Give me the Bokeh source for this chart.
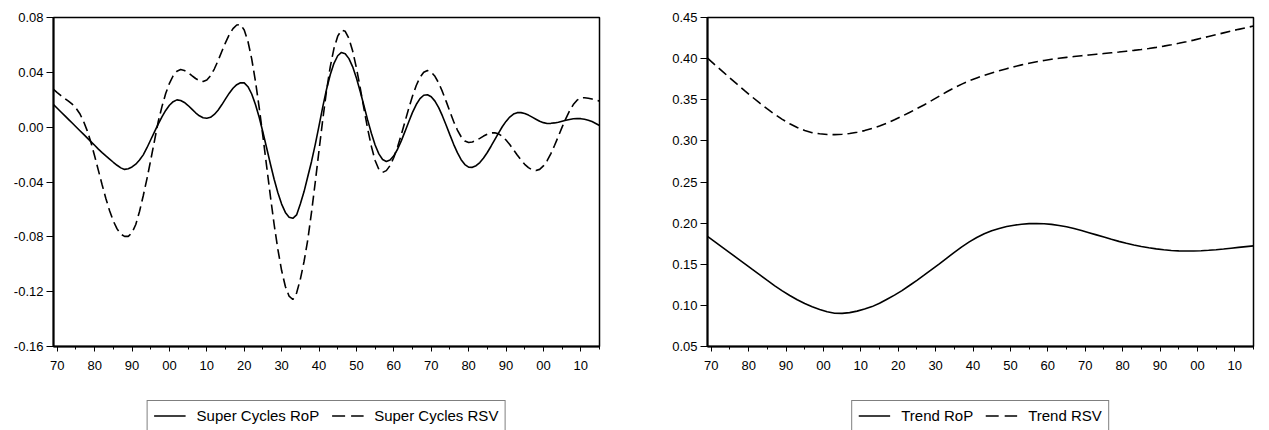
from bokeh.plotting import figure
from bokeh.layouts import row, column
from bokeh.models import (Range1d, FixedTicker, NumeralTickFormatter, Legend, LegendItem,
                          ColumnDataSource)
from bokeh.embed import file_html
from bokeh.resources import INLINE

# ---------------- data ----------------
# Super cycles: annual, 1869-2015
sc_years = list(range(1869, 2016))

sc_rop = [0.0165, 0.0138, 0.0111, 0.0084, 0.0057, 0.0030, 0.0003, -0.0024, -0.0051, -0.0078,   # 1869-1878
          -0.0105, -0.0132, -0.0160, -0.0186, -0.0210, -0.0233, -0.0256, -0.0278, -0.0297, -0.0308,  # 1879-1888
          -0.0303, -0.0290, -0.0270, -0.0240, -0.0202, -0.0150, -0.0092, -0.0035, 0.0022, 0.0075,  # 1889-1898
          0.0122, 0.0160, 0.0186, 0.0199, 0.0195, 0.0180, 0.0158, 0.0132, 0.0105, 0.0083,      # 1899-1908
          0.0069, 0.0065, 0.0072, 0.0093, 0.0124, 0.0163, 0.0206, 0.0248, 0.0284, 0.0310,      # 1909-1918
          0.0324, 0.0323, 0.0295, 0.0242, 0.0166, 0.0072, -0.0037, -0.0152, -0.0269, -0.0380,  # 1919-1928
          -0.0479, -0.0561, -0.0622, -0.0657, -0.0665, -0.0640, -0.0560, -0.0470, -0.0360, -0.0250,  # 1929-1938
          -0.0125, 0.0010, 0.0148, 0.0275, 0.0382, 0.0466, 0.0521, 0.0545, 0.0536, 0.0500,     # 1939-1948
          0.0440, 0.0358, 0.0262, 0.0158, 0.0053, -0.0045, -0.0130, -0.0195, -0.0236, -0.0250,  # 1949-1958
          -0.0240, -0.0209, -0.0161, -0.0100, -0.0031, 0.0040, 0.0108, 0.0165, 0.0208, 0.0233,  # 1959-1968
          0.0237, 0.0222, 0.0190, 0.0142, 0.0082, 0.0014, -0.0056, -0.0125, -0.0186, -0.0237,  # 1969-1978
          -0.0273, -0.0292, -0.0293, -0.0281, -0.0258, -0.0225, -0.0185, -0.0139, -0.0091, -0.0043,  # 1979-1988
          0.0003, 0.0042, 0.0074, 0.0096, 0.0106, 0.0106, 0.0099, 0.0088, 0.0073, 0.0058,      # 1989-1998
          0.0043, 0.0033, 0.0027, 0.0028, 0.0031, 0.0036, 0.0043, 0.0050, 0.0056, 0.0061,      # 1999-2008
          0.0063, 0.0062, 0.0058, 0.0051, 0.0041, 0.0027, 0.0012]                              # 2009-2015

sc_rsv = [0.0275, 0.0252, 0.0230, 0.0210, 0.0190, 0.0168, 0.0140, 0.0100, 0.0045, -0.0025,   # 1869-1878
          -0.0110, -0.0210, -0.0315, -0.0420, -0.0520, -0.0610, -0.0685, -0.0742, -0.0780, -0.0797,  # 1879-1888
          -0.0797, -0.0770, -0.0710, -0.0615, -0.0500, -0.0375, -0.0240, -0.0100, 0.0040, 0.0150,  # 1889-1898
          0.0245, 0.0320, 0.0375, 0.0408, 0.0420, 0.0413, 0.0398, 0.0376, 0.0355, 0.0340,      # 1899-1908
          0.0333, 0.0344, 0.0375, 0.0424, 0.0485, 0.0552, 0.0617, 0.0675, 0.0719, 0.0745,      # 1909-1918
          0.0748, 0.0709, 0.0625, 0.0498, 0.0335, 0.0143, -0.0067, -0.0287, -0.0504, -0.0710,  # 1919-1928
          -0.0892, -0.1046, -0.1162, -0.1233, -0.1257, -0.1210, -0.1110, -0.0980, -0.0820, -0.0620,  # 1929-1938
          -0.0400, -0.0170, 0.0055, 0.0265, 0.0440, 0.0575, 0.0664, 0.0708, 0.0699, 0.0647,    # 1939-1948
          0.0555, 0.0432, 0.0289, 0.0137, -0.0011, -0.0140, -0.0243, -0.0308, -0.0330, -0.0317,  # 1949-1958
          -0.0280, -0.0221, -0.0144, -0.0055, 0.0042, 0.0138, 0.0227, 0.0304, 0.0363, 0.0400,  # 1959-1968
          0.0413, 0.0402, 0.0371, 0.0322, 0.0259, 0.0188, 0.0113, 0.0041, -0.0021, -0.0070,    # 1969-1978
          -0.0101, -0.0112, -0.0108, -0.0097, -0.0082, -0.0065, -0.0051, -0.0042, -0.0041, -0.0049,  # 1979-1988
          -0.0067, -0.0094, -0.0127, -0.0165, -0.0203, -0.0239, -0.0271, -0.0295, -0.0311, -0.0316,  # 1989-1998
          -0.0308, -0.0283, -0.0244, -0.0193, -0.0132, -0.0067, 0.0000, 0.0063, 0.0119, 0.0165,  # 1999-2008
          0.0197, 0.0214, 0.0215, 0.0211, 0.0205, 0.0198, 0.0190]                              # 2009-2015

# Trends: every second year, 1869-2015
tr_years = list(range(1869, 2016, 2))

tr_rop = [0.1840, 0.1773, 0.1706, 0.1639, 0.1572, 0.1505, 0.1437, 0.1370, 0.1303, 0.1238,
          0.1177, 0.1120, 0.1068, 0.1022, 0.0983, 0.0951, 0.0922, 0.0905, 0.0903, 0.0912,
          0.0930, 0.0955, 0.0985, 0.1025, 0.1075, 0.1125, 0.1180, 0.1242, 0.1305, 0.1370,
          0.1438, 0.1505, 0.1575, 0.1645, 0.1712, 0.1772, 0.1825, 0.1870, 0.1906, 0.1935,
          0.1958, 0.1975, 0.1987, 0.1994, 0.1996, 0.1993, 0.1985, 0.1972, 0.1955, 0.1934,
          0.1910, 0.1884, 0.1857, 0.1830, 0.1803, 0.1778, 0.1755, 0.1734, 0.1716, 0.1700,
          0.1687, 0.1676, 0.1668, 0.1663, 0.1661, 0.1662, 0.1665, 0.1670, 0.1677, 0.1685,
          0.1695, 0.1705, 0.1714, 0.1723]

tr_rsv = [0.4005, 0.3925, 0.3845, 0.3765, 0.3686, 0.3608, 0.3532, 0.3458, 0.3388, 0.3322,
          0.3262, 0.3208, 0.3162, 0.3126, 0.3100, 0.3086, 0.3078, 0.3076, 0.3080, 0.3090,
          0.3105, 0.3125, 0.3150, 0.3180, 0.3215, 0.3256, 0.3300, 0.3345, 0.3392, 0.3440,
          0.3492, 0.3545, 0.3597, 0.3645, 0.3690, 0.3730, 0.3765, 0.3797, 0.3826, 0.3853,
          0.3878, 0.3902, 0.3924, 0.3944, 0.3962, 0.3978, 0.3992, 0.4004, 0.4015, 0.4025,
          0.4035, 0.4044, 0.4053, 0.4062, 0.4071, 0.4080, 0.4090, 0.4100, 0.4111, 0.4123,
          0.4137, 0.4152, 0.4168, 0.4186, 0.4205, 0.4225, 0.4247, 0.4269, 0.4291, 0.4313,
          0.4335, 0.4356, 0.4376, 0.4396]

year_ticks = [1870, 1880, 1890, 1900, 1910, 1920, 1930, 1940, 1950, 1960, 1970, 1980, 1990, 2000, 2010]
year_labels = ["70", "80", "90", "00", "10", "20", "30", "40", "50", "60", "70", "80", "90", "00", "10"]
year_minor = [1875, 1885, 1895, 1905, 1915, 1925, 1935, 1945, 1955, 1965, 1975, 1985, 1995, 2005, 2015]

sc_yticks = [-0.16, -0.12, -0.08, -0.04, 0.00, 0.04, 0.08]
tr_yticks = [0.05, 0.10, 0.15, 0.20, 0.25, 0.30, 0.35, 0.40, 0.45]

sc_labels = ["Super Cycles RoP", "Super Cycles RSV"]
tr_labels = ["Trend RoP", "Trend RSV"]

FONT = "Liberation Sans"
SOLID = dict(line_color="black", line_width=1.6)
DASHED = dict(line_color="black", line_width=1.6, line_dash="10 5")
LEG_DASHED = dict(line_color="black", line_width=1.6, line_dash="13 6")


def make_panel(width, border_left, border_right, yr, yticks, xs, s1, s2, labels):
    p = figure(width=width, height=380, output_backend="svg", toolbar_location=None,
               min_border_left=border_left, min_border_right=border_right,
               min_border_top=17, min_border_bottom=34,
               x_range=Range1d(1869, 2015), y_range=Range1d(*yr))
    p.grid.visible = False
    p.outline_line_color = "black"
    p.outline_line_width = 1.5
    p.outline_line_alpha = 1.0

    src = ColumnDataSource(dict(x=xs, a=s1, b=s2))
    p.line("x", "a", source=src, **SOLID)
    p.line("x", "b", source=src, **DASHED)

    xa = p.xaxis[0]
    xa.ticker = FixedTicker(ticks=year_ticks, minor_ticks=year_minor)
    xa.major_label_overrides = {t: l for t, l in zip(year_ticks, year_labels)}
    xa.axis_line_width = 2
    xa.major_tick_out = 5
    xa.major_tick_in = 0
    xa.minor_tick_out = 3
    xa.minor_tick_in = 0
    xa.major_label_standoff = 9
    xa.major_label_text_font = FONT
    xa.major_label_text_font_size = "13px"
    xa.major_label_text_color = "black"

    ya = p.yaxis[0]
    ya.ticker = FixedTicker(ticks=yticks, minor_ticks=[])
    ya.formatter = NumeralTickFormatter(format="0.00")
    ya.axis_line_width = 2
    ya.major_tick_out = 7
    ya.major_tick_in = 0
    ya.minor_tick_out = 0
    ya.minor_tick_in = 0
    ya.major_label_standoff = 3
    ya.major_label_text_font = FONT
    ya.major_label_text_font_size = "13px"
    ya.major_label_text_color = "black"

    # legend strip under the panel (same frame width, legend centred)
    lf = figure(width=width, height=50, output_backend="svg", toolbar_location=None,
                min_border_left=border_left, min_border_right=border_right,
                min_border_top=0, min_border_bottom=0,
                x_axis_type=None, y_axis_type=None,
                x_range=Range1d(0, 1), y_range=Range1d(0, 1))
    lf.grid.visible = False
    lf.outline_line_color = None
    # legend-only glyphs, kept outside the visible range of the strip
    g1 = lf.line(x=[-3, -2], y=[-3, -2], **SOLID)
    g2 = lf.line(x=[-3, -2], y=[-3, -2], **LEG_DASHED)
    leg = Legend(items=[LegendItem(label=labels[0], renderers=[g1]),
                        LegendItem(label=labels[1], renderers=[g2])],
                 orientation="horizontal", location="top_center")
    leg.border_line_color = "black"
    leg.border_line_width = 1
    leg.background_fill_color = "white"
    leg.background_fill_alpha = 1.0
    leg.label_text_font = FONT
    leg.label_text_font_size = "15px"
    leg.label_text_color = "black"
    leg.glyph_width = 32
    leg.glyph_height = 17
    leg.label_height = 17
    leg.label_standoff = 11
    leg.spacing = 12
    leg.padding = 6
    leg.margin = 20
    lf.add_layout(leg)
    return column(p, lf)


c1 = make_panel(638, 53, 39, (-0.16, 0.08), sc_yticks, sc_years, sc_rop, sc_rsv, sc_labels)
c2 = make_panel(631, 69, 16, (0.05, 0.45), tr_yticks, tr_years, tr_rop, tr_rsv, tr_labels)

layout = row(c1, c2)
open("out.html", "w").write(file_html(layout, INLINE))
